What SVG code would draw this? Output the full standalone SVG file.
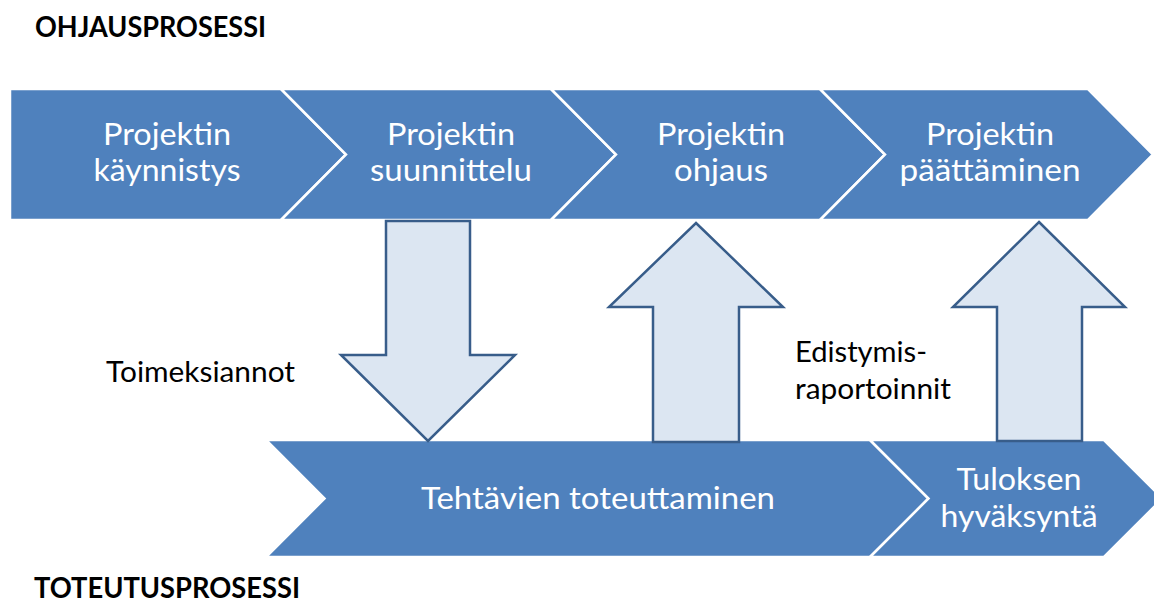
<svg xmlns="http://www.w3.org/2000/svg" width="1154" height="610" viewBox="0 0 1154 610">
  <style>
    .chev { fill: #4F81BD; stroke: #FFFFFF; stroke-width: 2.5; stroke-linejoin: miter; }
    .blk { fill: #DCE6F2; stroke: #385D8A; stroke-width: 2.5; stroke-linejoin: miter; }
    .wt { font-family: Lato, "Open Sans", sans-serif; font-size: 31.5px; fill: #FFFFFF; text-anchor: middle; }
    .bt { font-family: Lato, "Open Sans", sans-serif; font-size: 28.5px; fill: #000000; }
    .hd { font-family: Lato, "Open Sans", sans-serif; font-size: 28.5px; font-weight: bold; fill: #000000; }
  </style>
  <rect width="1154" height="610" fill="#FFFFFF"/>

  <g id="label-ohjausprosessi">
    <text class="hd" x="35" y="37" textLength="231" lengthAdjust="spacingAndGlyphs">OHJAUSPROSESSI</text>
  </g>
  <g id="label-toteutusprosessi">
    <text class="hd" x="34" y="598" textLength="266" lengthAdjust="spacingAndGlyphs">TOTEUTUSPROSESSI</text>
  </g>

  <g id="node-kaynnistys">
    <polygon class="chev" points="10,89 281,89 346,154.5 281,220 10,220"/>
    <text class="wt" x="167" y="145" textLength="128" lengthAdjust="spacingAndGlyphs">Projektin</text>
    <text class="wt" x="167" y="181" textLength="147" lengthAdjust="spacingAndGlyphs">käynnistys</text>
  </g>
  <g id="node-suunnittelu">
    <polygon class="chev" points="281,89 551,89 616,154.5 551,220 281,220 346,154.5"/>
    <text class="wt" x="451" y="145" textLength="128" lengthAdjust="spacingAndGlyphs">Projektin</text>
    <text class="wt" x="451" y="181" textLength="162" lengthAdjust="spacingAndGlyphs">suunnittelu</text>
  </g>
  <g id="node-ohjaus">
    <polygon class="chev" points="551,89 820,89 885,154.5 820,220 551,220 616,154.5"/>
    <text class="wt" x="721" y="145" textLength="128" lengthAdjust="spacingAndGlyphs">Projektin</text>
    <text class="wt" x="721" y="181" textLength="94" lengthAdjust="spacingAndGlyphs">ohjaus</text>
  </g>
  <g id="node-paattaminen">
    <polygon class="chev" points="820,89 1088,89 1153,154.5 1088,220 820,220 885,154.5"/>
    <text class="wt" x="990" y="145" textLength="128" lengthAdjust="spacingAndGlyphs">Projektin</text>
    <text class="wt" x="990" y="181" textLength="181" lengthAdjust="spacingAndGlyphs">päättäminen</text>
  </g>

  <g id="node-toteuttaminen">
    <polygon class="chev" points="266,440 870,440 928.5,498.5 870,557 266,557 324.5,498.5"/>
    <text class="wt" x="598" y="509" textLength="354" lengthAdjust="spacingAndGlyphs">Tehtävien toteuttaminen</text>
  </g>
  <g id="node-hyvaksynta">
    <polygon class="chev" points="870,440 1104,440 1162.5,498.5 1104,557 870,557 928.5,498.5"/>
    <text class="wt" x="1019" y="490" textLength="125" lengthAdjust="spacingAndGlyphs">Tuloksen</text>
    <text class="wt" x="1019" y="527" textLength="157" lengthAdjust="spacingAndGlyphs">hyväksyntä</text>
  </g>

  <g id="connectors">
    <path class="blk" d="M386,221 L470,221 L470,355 L515,355 L428,441 L341,355 L386,355 Z"/>
    <path class="blk" d="M696,223 L783,307 L739,307 L739,442 L653,442 L653,307 L609,307 Z"/>
    <path class="blk" d="M1039,222 L1125,307 L1082,307 L1082,441 L997,441 L997,307 L953,307 Z"/>
  </g>

  <g id="label-toimeksiannot">
    <text class="bt" x="106" y="382" textLength="189" lengthAdjust="spacingAndGlyphs">Toimeksiannot</text>
  </g>
  <g id="label-edistymis">
    <text class="bt" x="795" y="362" textLength="132" lengthAdjust="spacingAndGlyphs">Edistymis-</text>
    <text class="bt" x="795" y="399" textLength="156" lengthAdjust="spacingAndGlyphs">raportoinnit</text>
  </g>
</svg>
